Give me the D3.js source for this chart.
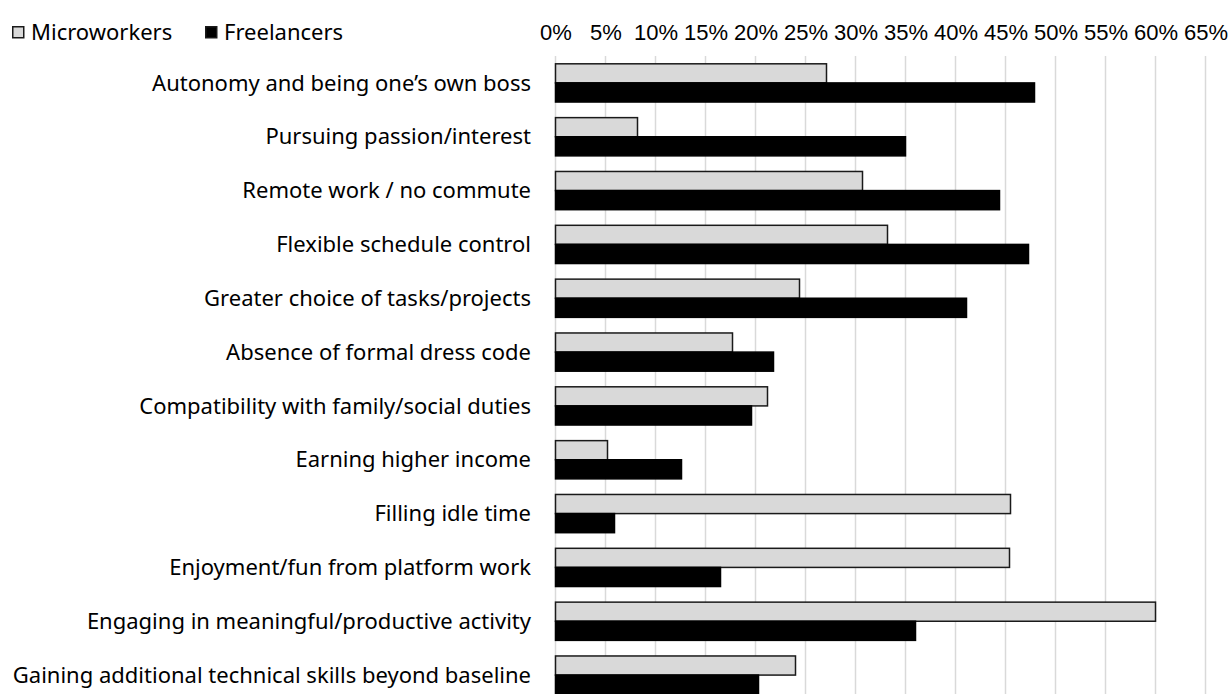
<!DOCTYPE html>
<html>
<head>
<meta charset="utf-8">
<script src="https://cdn.jsdelivr.net/npm/d3@7"></script>
<style>
  html, body { margin: 0; padding: 0; background: #fff; }
  svg { display: block; font-family: "Noto Sans", "Open Sans", sans-serif; }
</style>
</head>
<body>
<svg id="chart" width="1232" height="694"></svg>
<script>
// Motivations for platform work, share of respondents (%)
const categories = [
  "Autonomy and being one\u2019s own boss",
  "Pursuing passion/interest",
  "Remote work / no commute",
  "Flexible schedule control",
  "Greater choice of tasks/projects",
  "Absence of formal dress code",
  "Compatibility with family/social duties",
  "Earning higher income",
  "Filling idle time",
  "Enjoyment/fun from platform work",
  "Engaging in meaningful/productive activity",
  "Gaining additional technical skills beyond baseline"
];
const seriesNames = ["Microworkers", "Freelancers"];
const microworkers = [27.1, 8.2, 30.7, 33.2, 24.4, 17.7, 21.2, 5.2, 45.5, 45.4, 60.0, 24.0];
const freelancers  = [47.9, 35.0, 44.4, 47.3, 41.1, 21.8, 19.6, 12.6, 5.9, 16.5, 36.0, 20.3];
const tickValues = [0, 5, 10, 15, 20, 25, 30, 35, 40, 45, 50, 55, 60, 65];

const colors = { Microworkers: "#d9d9d9", Freelancers: "#000000" };

const svg = d3.select("#chart");
const plotLeft = 555.5, plotRight = 1205.5, plotTop = 56, plotBottom = 702;

const x = d3.scaleLinear().domain([0, 65]).range([plotLeft, plotRight]);
const y = d3.scaleBand().domain(categories).range([plotTop, plotBottom]).paddingInner(0.29).paddingOuter(0.145);
const sub = d3.scaleBand().domain(seriesNames).range([0, y.bandwidth()]);

// vertical gridlines
svg.append("g").selectAll("line").data(tickValues).join("line")
  .attr("x1", d => x(d)).attr("x2", d => x(d))
  .attr("y1", plotTop).attr("y2", plotBottom)
  .attr("stroke", "#d9d9d9").attr("stroke-width", 1.5);

// top axis labels
const axis = d3.axisTop(x).tickValues(tickValues).tickFormat(d => d + "%").tickSize(0).tickPadding(0);
const axG = svg.append("g").attr("transform", "translate(0,40)").call(axis);
axG.select(".domain").remove();
axG.selectAll("text").attr("font-size", 22).attr("fill", "#000")
  .attr("font-family", "\"Liberation Sans\", Arial, sans-serif").attr("dy", 0);

// bars
const rows = categories.map((c, i) => ({ cat: c, values: [
  { s: "Microworkers", v: microworkers[i] },
  { s: "Freelancers", v: freelancers[i] }
]}));

const g = svg.append("g").selectAll("g").data(rows).join("g")
  .attr("transform", d => `translate(0,${y(d.cat)})`);

g.selectAll("rect").data(d => d.values).join("rect")
  .attr("x", x(0))
  .attr("y", d => sub(d.s))
  .attr("width", d => x(d.v) - x(0))
  .attr("height", sub.bandwidth())
  .attr("fill", d => colors[d.s])
  .attr("stroke", d => d.s === "Microworkers" ? "#1a1a1a" : "#000")
  .attr("stroke-width", 1.5);

// category labels
svg.append("g").selectAll("text").data(categories).join("text")
  .attr("x", 531)
  .attr("y", d => y(d) + y.bandwidth() / 2)
  .attr("dy", "0.35em")
  .attr("text-anchor", "end")
  .attr("font-size", 22)
  .attr("fill", "#000")
  .text(d => d);

// legend
const legend = svg.append("g").attr("transform", "translate(12,26)");
const legendX = [0, 193];
seriesNames.forEach((s, i) => {
  const lg = legend.append("g").attr("transform", `translate(${legendX[i]},0)`);
  lg.append("rect").attr("x", 0.75).attr("y", 0.75).attr("width", 11).attr("height", 11)
    .attr("fill", colors[s]).attr("stroke", "#1a1a1a").attr("stroke-width", 1.5);
  lg.append("text").attr("x", 19).attr("y", 14)
    .attr("font-size", 22).attr("fill", "#000").text(s);
});
</script>
</body>
</html>
